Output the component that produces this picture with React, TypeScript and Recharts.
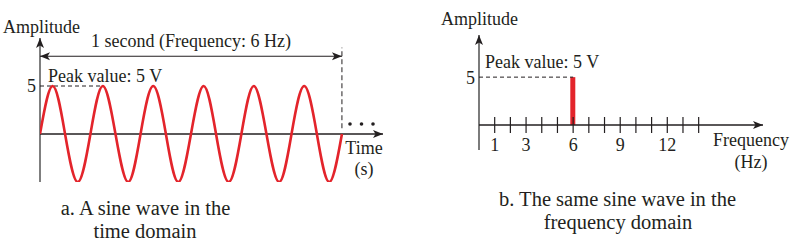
import React from 'react';
import {
  ComposedChart,
  LineChart,
  Line,
  Bar,
  XAxis,
  YAxis,
  ReferenceLine,
  ReferenceDot,
} from 'recharts';

// time domain: one second of a 6 Hz sine, sampled at every quarter period
const TIME_S = [
  0, 0.042, 0.083, 0.125, 0.167, 0.208, 0.25, 0.292, 0.333, 0.375, 0.417, 0.458, 0.5,
  0.542, 0.583, 0.625, 0.667, 0.708, 0.75, 0.792, 0.833, 0.875, 0.917, 0.958, 1,
];
const VOLTS = [
  0, 5, 0, -5, 0, 5, 0, -5, 0, 5, 0, -5, 0, 5, 0, -5, 0, 5, 0, -5, 0, 5, 0, -5, 0,
];

// frequency domain: amplitude at each whole Hz
const FREQ_HZ = [1, 2, 3, 4, 5, 6, 7, 8, 9, 10, 11, 12, 13, 14];
const AMPLITUDE = [0, 0, 0, 0, 0, 5, 0, 0, 0, 0, 0, 0, 0, 0];
const FREQ_LABELS = [1, 3, 6, 9, 12];

const PEAK_V = 5;
const SIGNAL_HZ = 6;
const PERIOD_END_S = 1;

const T_MAX = 1.136;
const F_MAX = 18.1;

const INK = '#231f20';
const RED = '#e3242b';
const SERIF = '"Liberation Serif", "Times New Roman", serif';

const timeData = TIME_S.map((t, i) => ({ t, v: VOLTS[i] }));
const freqData = FREQ_HZ.map((hz, i) => ({ hz, a: AMPLITUDE[i] }));

type Dir = 'up' | 'right' | 'left';

const Arrow = ({ cx, cy, dir, color = INK }: { cx?: number; cy?: number; dir: Dir; color?: string }) => {
  if (cx == null || cy == null) return null;
  const L = 10;
  const W = 4;
  const N = 2.5;
  let d = '';
  if (dir === 'right') d = `M${cx},${cy} L${cx - L},${cy - W} L${cx - L + N},${cy} L${cx - L},${cy + W} Z`;
  if (dir === 'left') d = `M${cx},${cy} L${cx + L},${cy - W} L${cx + L - N},${cy} L${cx + L},${cy + W} Z`;
  if (dir === 'up') d = `M${cx},${cy} L${cx - W},${cy + L} L${cx},${cy + L - N} L${cx + W},${cy + L} Z`;
  return <path d={d} fill={color} />;
};

const FreqTick = (props: any) => {
  const { x, y, payload } = props;
  const v = payload.value as number;
  return (
    <g>
      <line x1={x} x2={x} y1={y - 8} y2={y + 8} stroke={INK} strokeWidth={1.2} />
      {FREQ_LABELS.includes(v) && (
        <text x={x} y={y + 26} textAnchor="middle" fill={INK} fontFamily={SERIF} fontSize={18}>
          {v}
        </text>
      )}
    </g>
  );
};

const tickStyle = { fontFamily: SERIF, fontSize: 18, fill: INK };

const TimeDomain = () => (
  <LineChart width={400} height={252} data={timeData} margin={{ top: 38, right: 17, bottom: 70, left: 10 }}>
    <XAxis dataKey="t" type="number" domain={[0, T_MAX]} allowDataOverflow hide />
    <YAxis
      type="number"
      domain={[-5, 10]}
      allowDataOverflow
      ticks={[PEAK_V]}
      width={30}
      axisLine={false}
      tickLine={false}
      tickSize={0}
      tickMargin={4}
      tick={tickStyle}
    />
    {/* axes */}
    <ReferenceLine x={0} stroke="#555" strokeWidth={1.5} ifOverflow="visible" />
    <ReferenceLine y={0} stroke={INK} strokeWidth={1.3} ifOverflow="visible" />
    <ReferenceDot x={0} y={10} ifOverflow="visible" shape={(p: any) => <Arrow {...p} dir="up" />} />
    <ReferenceDot x={T_MAX} y={0} ifOverflow="visible" shape={(p: any) => <Arrow {...p} dir="right" />} />
    {/* peak marker */}
    <ReferenceLine
      segment={[{ x: 0, y: PEAK_V }, { x: 0.2, y: PEAK_V }]}
      stroke={INK}
      strokeWidth={1}
      strokeDasharray="4 3"
      ifOverflow="visible"
    />
    {/* one-second span */}
    <ReferenceLine
      segment={[{ x: PERIOD_END_S, y: 0.6 }, { x: PERIOD_END_S, y: 9 }]}
      stroke={INK}
      strokeWidth={1}
      strokeDasharray="5 3"
      ifOverflow="visible"
    />
    <ReferenceLine
      segment={[{ x: 0, y: 8.1 }, { x: PERIOD_END_S, y: 8.1 }]}
      stroke={INK}
      strokeWidth={1.2}
      ifOverflow="visible"
    />
    <ReferenceDot x={0} y={8.1} ifOverflow="visible" shape={(p: any) => <Arrow {...p} dir="left" />} />
    <ReferenceDot x={PERIOD_END_S} y={8.1} ifOverflow="visible" shape={(p: any) => <Arrow {...p} dir="right" />} />
    <Line
      dataKey="v"
      type="natural"
      stroke={RED}
      strokeWidth={2.6}
      dot={false}
      activeDot={false}
      isAnimationActive={false}
    />
  </LineChart>
);

const FreqDomain = () => (
  <ComposedChart width={387} height={252} data={freqData} margin={{ top: 35, right: 44, bottom: 97, left: 39 }}>
    <XAxis
      dataKey="hz"
      type="number"
      domain={[0, F_MAX]}
      allowDataOverflow
      ticks={FREQ_HZ}
      interval={0}
      height={30}
      tickSize={0}
      tickMargin={0}
      tickLine={false}
      axisLine={{ stroke: INK, strokeWidth: 1.3 }}
      tick={<FreqTick />}
    />
    <YAxis
      type="number"
      domain={[0, 9.4]}
      allowDataOverflow
      ticks={[PEAK_V]}
      width={20}
      axisLine={false}
      tickLine={false}
      tickSize={0}
      tickMargin={4}
      tick={tickStyle}
    />
    <ReferenceLine
      segment={[{ x: 0, y: -2.6 }, { x: 0, y: 9.4 }]}
      stroke="#444"
      strokeWidth={1.4}
      ifOverflow="visible"
    />
    <ReferenceDot x={0} y={9.4} ifOverflow="visible" shape={(p: any) => <Arrow {...p} dir="up" />} />
    <ReferenceDot x={F_MAX} y={0} ifOverflow="visible" shape={(p: any) => <Arrow {...p} dir="right" />} />
    <ReferenceLine
      segment={[{ x: 0, y: PEAK_V }, { x: SIGNAL_HZ, y: PEAK_V }]}
      stroke={INK}
      strokeWidth={1}
      strokeDasharray="4 3"
      ifOverflow="visible"
    />
    <Bar dataKey="a" fill={RED} barSize={5} isAnimationActive={false} />
  </ComposedChart>
);

const txt = { fontFamily: SERIF, fontSize: 18, fill: INK };
const caption = { fontFamily: SERIF, fontSize: 20.5, fill: INK };

export default function App() {
  return (
    <div style={{ position: 'absolute', left: 0, top: 0, width: 807, height: 252, background: '#fff' }}>
      <div style={{ position: 'absolute', left: 0, top: 0 }}>
        <TimeDomain />
      </div>
      <div style={{ position: 'absolute', left: 420, top: 0 }}>
        <FreqDomain />
      </div>
      <svg
        width={807}
        height={252}
        style={{ position: 'absolute', left: 0, top: 0, pointerEvents: 'none' }}
      >
        {/* time domain annotations */}
        <text x={3} y={33} {...txt}>Amplitude</text>
        <text x={191} y={47} textAnchor="middle" {...txt}>{`1 second (Frequency: ${SIGNAL_HZ} Hz)`}</text>
        <text x={48} y={82} {...txt}>{`Peak value: ${PEAK_V} V`}</text>
        <circle cx={350} cy={124} r={1.8} fill={INK} />
        <circle cx={361.5} cy={124} r={1.8} fill={INK} />
        <circle cx={373} cy={124} r={1.8} fill={INK} />
        <text x={364} y={154} textAnchor="middle" {...txt}>Time</text>
        <text x={364} y={175} textAnchor="middle" {...txt}>(s)</text>
        <text x={145.5} y={215} textAnchor="middle" {...caption}>a. A sine wave in the</text>
        <text x={145} y={238} textAnchor="middle" {...caption}>time domain</text>

        {/* frequency domain annotations */}
        <text x={441} y={25} {...txt}>Amplitude</text>
        <text x={485} y={68} {...txt}>{`Peak value: ${PEAK_V} V`}</text>
        <text x={751} y={146} textAnchor="middle" {...txt}>Frequency</text>
        <text x={751} y={168} textAnchor="middle" {...txt}>(Hz)</text>
        <text x={617.5} y={206} textAnchor="middle" {...caption}>b. The same sine wave in the</text>
        <text x={618} y={229} textAnchor="middle" {...caption}>frequency domain</text>
      </svg>
    </div>
  );
}
